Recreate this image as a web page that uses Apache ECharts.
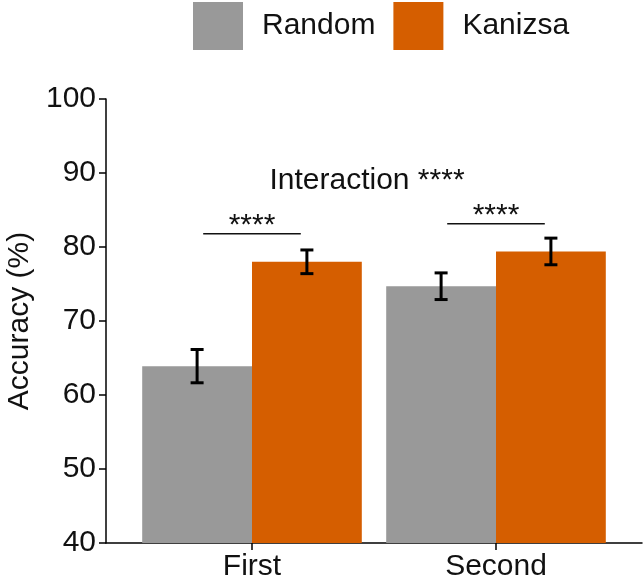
<!DOCTYPE html>
<html>
<head>
<meta charset="utf-8">
<script src="https://cdn.jsdelivr.net/npm/echarts@6/dist/echarts.min.js"></script>
<style>
html,body{margin:0;padding:0;background:#fff;}
#chart{width:644px;height:582px;}
</style>
</head>
<body>
<div id="chart"></div>
<script>
var categories = ['First', 'Second'];
var randomMean = [63.9, 74.7];
var kanizsaMean = [78.0, 79.4];
var randomErr = [2.25, 1.8];
var kanizsaErr = [1.6, 1.8];
var sigY = [81.8, 83.15];
var sigLabel = ['****', '****'];
var yTicks = [40, 50, 60, 70, 80, 90, 100];

var FONT = 'Liberation Sans, Arial, sans-serif';
var myChart = echarts.init(document.getElementById('chart'));

// error bar data: [catIndex, low, high]
function errData(mean, err) {
	var out = [];
	for (var i = 0; i < mean.length; i++) {
		out.push([i, mean[i] - err[i], mean[i] + err[i]]);
	}
	return out;
}

function errRender(side) {
	return function (params, api) {
		var band = api.size([1, 0])[0];
		var lo = api.coord([api.value(0), api.value(1)]);
		var hi = api.coord([api.value(0), api.value(2)]);
		var x = lo[0] + side * band * 0.225;
		var cap = 6.5;
		var st = { stroke: '#000', lineWidth: 3 };
		return {
			type: 'group',
			children: [
				{ type: 'line', shape: { x1: x, y1: lo[1], x2: x, y2: hi[1] }, style: st },
				{ type: 'line', shape: { x1: x - cap, y1: lo[1], x2: x + cap, y2: lo[1] }, style: st },
				{ type: 'line', shape: { x1: x - cap, y1: hi[1], x2: x + cap, y2: hi[1] }, style: st }
			]
		};
	};
}

var sigData = [];
for (var i = 0; i < categories.length; i++) {
	sigData.push([i, sigY[i], sigLabel[i]]);
}

option = {
	animation: false,
	backgroundColor: '#fff',
	color: ['#999999', '#D55E00'],
	legend: {
		data: ['Random', 'Kanizsa'],
		left: 193,
		top: 2,
		padding: 0,
		icon: 'rect',
		itemWidth: 50,
		itemHeight: 48,
		itemGap: 18,
		textStyle: { fontFamily: FONT, fontSize: 30, color: '#111', padding: [4, 0, 0, 14] }
	},
	graphic: [{
		type: 'text',
		x: 367,
		y: 181,
		style: {
			text: 'Interaction ****',
			fontFamily: FONT,
			fontSize: 30,
			fill: '#111',
			textAlign: 'center',
			textVerticalAlign: 'middle'
		}
	}],
	grid: [
		{ left: 130, right: 26, top: 99, bottom: 39, outerBoundsMode: 'none' },
		{ left: 106, right: 2, top: 99, bottom: 39, outerBoundsMode: 'none' }
	],
	xAxis: [
		{
			type: 'category',
			gridIndex: 0,
			data: categories,
			axisLine: { show: false },
			axisTick: { show: true, alignWithLabel: true, length: 7, lineStyle: { color: '#000', width: 1.5 } },
			axisLabel: { fontFamily: FONT, fontSize: 30, color: '#111', margin: 9 }
		},
		{
			type: 'value',
			gridIndex: 1,
			min: 0,
			max: 1,
			axisLine: { show: true, lineStyle: { color: '#000', width: 1.5 } },
			axisTick: { show: false },
			axisLabel: { show: false },
			splitLine: { show: false }
		}
	],
	yAxis: [
		{
			type: 'value',
			gridIndex: 0,
			min: yTicks[0],
			max: yTicks[yTicks.length - 1],
			interval: 10,
			offset: 24,
			name: 'Accuracy (%)',
			nameLocation: 'middle',
			nameRotate: 90,
			nameGap: 70,
			nameTextStyle: { fontFamily: FONT, fontSize: 30, color: '#111' },
			axisLine: { show: true, lineStyle: { color: '#000', width: 1.5 } },
			axisTick: { show: true, length: 7, lineStyle: { color: '#000', width: 1.5 } },
			axisLabel: { fontFamily: FONT, fontSize: 30, color: '#111', margin: 10 },
			splitLine: { show: false }
		},
		{
			type: 'value',
			gridIndex: 1,
			show: false
		}
	],
	series: [
		{
			name: 'Random',
			type: 'bar',
			xAxisIndex: 0,
			yAxisIndex: 0,
			barGap: '0%',
			barCategoryGap: '10%',
			data: randomMean
		},
		{
			name: 'Kanizsa',
			type: 'bar',
			xAxisIndex: 0,
			yAxisIndex: 0,
			barGap: '0%',
			barCategoryGap: '10%',
			data: kanizsaMean
		},
		{
			type: 'custom',
			xAxisIndex: 0,
			yAxisIndex: 0,
			renderItem: errRender(-1),
			encode: { x: 0, y: [1, 2] },
			data: errData(randomMean, randomErr),
			z: 5
		},
		{
			type: 'custom',
			xAxisIndex: 0,
			yAxisIndex: 0,
			renderItem: errRender(1),
			encode: { x: 0, y: [1, 2] },
			data: errData(kanizsaMean, kanizsaErr),
			z: 5
		},
		{
			type: 'custom',
			xAxisIndex: 0,
			yAxisIndex: 0,
			encode: { x: 0, y: 1 },
			data: sigData,
			z: 5,
			renderItem: function (params, api) {
				var band = api.size([1, 0])[0];
				var p = api.coord([api.value(0), api.value(1)]);
				var hw = band * 0.2;
				return {
					type: 'group',
					children: [
						{ type: 'line', shape: { x1: p[0] - hw, y1: p[1], x2: p[0] + hw, y2: p[1] }, style: { stroke: '#111', lineWidth: 1.5 } },
						{ type: 'text', x: p[0], y: p[1] + 7, style: { text: api.value(2), fontFamily: FONT, fontSize: 30, fill: '#111', textAlign: 'center', textVerticalAlign: 'bottom' } }
					]
				};
			}
		}
	]
};

myChart.setOption(option);
</script>
</body>
</html>
